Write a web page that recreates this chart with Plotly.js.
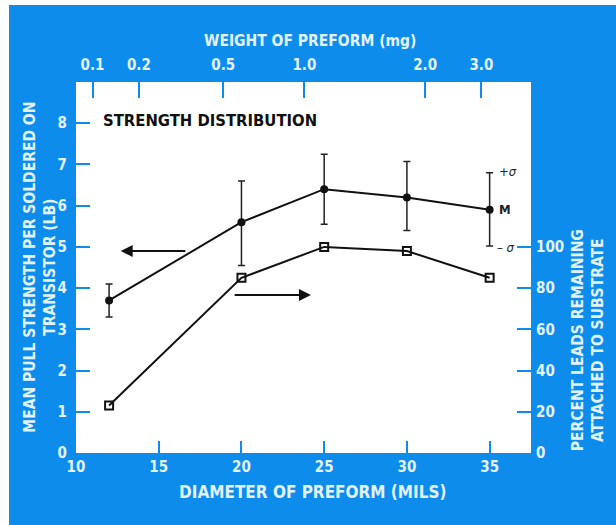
<!DOCTYPE html>
<html>
<head>
<meta charset="utf-8">
<script src="https://cdn.plot.ly/plotly-3.0.1.min.js"></script>
<style>
  html, body { margin: 0; padding: 0; background: #ffffff; width: 616px; height: 525px; overflow: hidden; }
  #chart { position: absolute; left: 9px; top: 5px; width: 607px; height: 520px; }
</style>
</head>
<body>
<div id="chart"></div>
<script>
// ---- data ----
const diameterMils = [12, 20, 25, 30, 35];
const meanStrength = [3.7, 5.6, 6.4, 6.2, 5.9];
const sigmaPlus = [0.4, 1.0, 0.85, 0.87, 0.9];
const sigmaMinus = [0.4, 1.05, 0.85, 0.8, 0.88];
const percentRemaining = [23, 85, 100, 98, 85];

const diameterTicks = [10, 15, 20, 25, 30, 35];
const strengthTicks = [0, 1, 2, 3, 4, 5, 6, 7, 8];
const percentTicks = [0, 20, 40, 60, 80, 100];
const weightTickText = ["0.1", "0.2", "0.5", "1.0", "2.0", "3.0"];
const weightTickPosMils = [11.0, 13.8, 18.9, 23.8, 31.1, 34.5];

// ---- styling ----
const BLUE = "#0e8ceb";
const PALE = "#e2f3ff";
const FONT = "'Liberation Sans Narrow', 'DejaVu Sans Condensed', 'Roboto Condensed', 'Arial Narrow', Roboto, sans-serif";

const traces = [
  {
    x: diameterMils, y: meanStrength, xaxis: "x", yaxis: "y",
    type: "scatter", mode: "lines+markers",
    line: { color: "#111111", width: 2 },
    marker: { symbol: "circle", size: 8, color: "#111111" },
    error_y: { type: "data", symmetric: false, array: sigmaPlus, arrayminus: sigmaMinus,
               color: "#222222", thickness: 1.5, width: 3.5 },
    hoverinfo: "skip", showlegend: false
  },
  {
    x: diameterMils, y: percentRemaining, xaxis: "x2", yaxis: "y2",
    type: "scatter", mode: "lines+markers",
    line: { color: "#111111", width: 2 },
    marker: { symbol: "square-open", size: 8, color: "#111111", line: { width: 2, color: "#111111" } },
    hoverinfo: "skip", showlegend: false
  }
];

const tickFont = { family: FONT, size: 15, color: PALE, weight: "bold" };
const titleFont = { family: FONT, size: 15.5, color: PALE, weight: "bold" };

const layout = {
  width: 607, height: 520,
  paper_bgcolor: BLUE, plot_bgcolor: "#ffffff",
  margin: { l: 67, r: 85, t: 77, b: 72 },
  font: { family: FONT },
  xaxis: {
    range: [10, 37.5], tickvals: diameterTicks, ticks: "inside", ticklen: 12, tickwidth: 2,
    tickcolor: BLUE, showgrid: false, zeroline: false, showline: false,
    tickfont: tickFont, ticklabelstandoff: 3
  },
  xaxis2: {
    range: [10, 37.5], overlaying: "x", side: "top", anchor: "y",
    tickvals: weightTickPosMils, ticktext: weightTickText,
    ticks: "inside", ticklen: 16, tickwidth: 2, tickcolor: BLUE,
    showgrid: false, zeroline: false, showline: false,
    tickfont: tickFont, ticklabelstandoff: 8
  },
  yaxis: {
    range: [0, 9], tickvals: strengthTicks, ticks: "inside", ticklen: 14, tickwidth: 2,
    tickcolor: BLUE, showgrid: false, zeroline: false, showline: false,
    tickfont: tickFont, ticklabelstandoff: 8
  },
  yaxis2: {
    range: [0, 180], overlaying: "y", side: "right", anchor: "x",
    tickvals: percentTicks, ticks: "inside", ticklen: 14, tickwidth: 2,
    tickcolor: BLUE, showgrid: false, zeroline: false, showline: false,
    tickfont: tickFont, ticklabelstandoff: 4
  },
  annotations: [
    { xref: "paper", yref: "paper", x: 0.514, y: 1.11, text: "WEIGHT OF PREFORM (mg)",
      showarrow: false, font: titleFont, xanchor: "center", yanchor: "middle" },
    { xref: "paper", yref: "paper", x: 0.521, y: -0.105, text: "DIAMETER OF PREFORM (MILS)",
      showarrow: false, font: { family: FONT, size: 17, color: PALE, weight: "bold" },
      xanchor: "center", yanchor: "middle" },
    { xref: "paper", yref: "paper", x: -0.081, y: 0.5, textangle: -90,
      text: "MEAN PULL STRENGTH PER SOLDERED ON<br>TRANSISTOR (LB)",
      showarrow: false, font: titleFont, xanchor: "center", yanchor: "middle" },
    { xref: "paper", yref: "paper", x: 1.124, y: 0.305, textangle: -90,
      text: "PERCENT LEADS REMAINING<br>ATTACHED TO SUBSTRATE",
      showarrow: false, font: titleFont, xanchor: "center", yanchor: "middle" },
    { xref: "x", yref: "y", x: 11.5, y: 8.07, text: "<b>STRENGTH DISTRIBUTION</b>",
      showarrow: false, xanchor: "left", yanchor: "middle",
      font: { family: FONT, size: 16.5, color: "#111111" } },
    // +sigma / M / -sigma labels next to last error bar
    { xref: "x", yref: "y", x: 35.45, y: 6.82, text: "+<i>σ</i>", showarrow: false,
      xanchor: "left", yanchor: "middle", font: { family: FONT, size: 13, color: "#222222" } },
    { xref: "x", yref: "y", x: 35.45, y: 5.9, text: "<b>M</b>", showarrow: false,
      xanchor: "left", yanchor: "middle", font: { family: FONT, size: 13, color: "#222222" } },
    { xref: "x", yref: "y", x: 35.3, y: 4.98, text: "– <i>σ</i>", showarrow: false,
      xanchor: "left", yanchor: "middle", font: { family: FONT, size: 13, color: "#222222" } },
    // arrows pointing to the axes
    { xref: "x", yref: "y", axref: "x", ayref: "y", x: 12.7, y: 4.9, ax: 16.7, ay: 4.9,
      text: "", showarrow: true, arrowhead: 2, arrowsize: 1.2, arrowwidth: 2, arrowcolor: "#111111" },
    { xref: "x", yref: "y", axref: "x", ayref: "y", x: 24.2, y: 3.83, ax: 19.5, ay: 3.83,
      text: "", showarrow: true, arrowhead: 2, arrowsize: 1.2, arrowwidth: 2, arrowcolor: "#111111" }
  ]
};

Plotly.newPlot("chart", traces, layout, { displayModeBar: false, staticPlot: true });
</script>
</body>
</html>
